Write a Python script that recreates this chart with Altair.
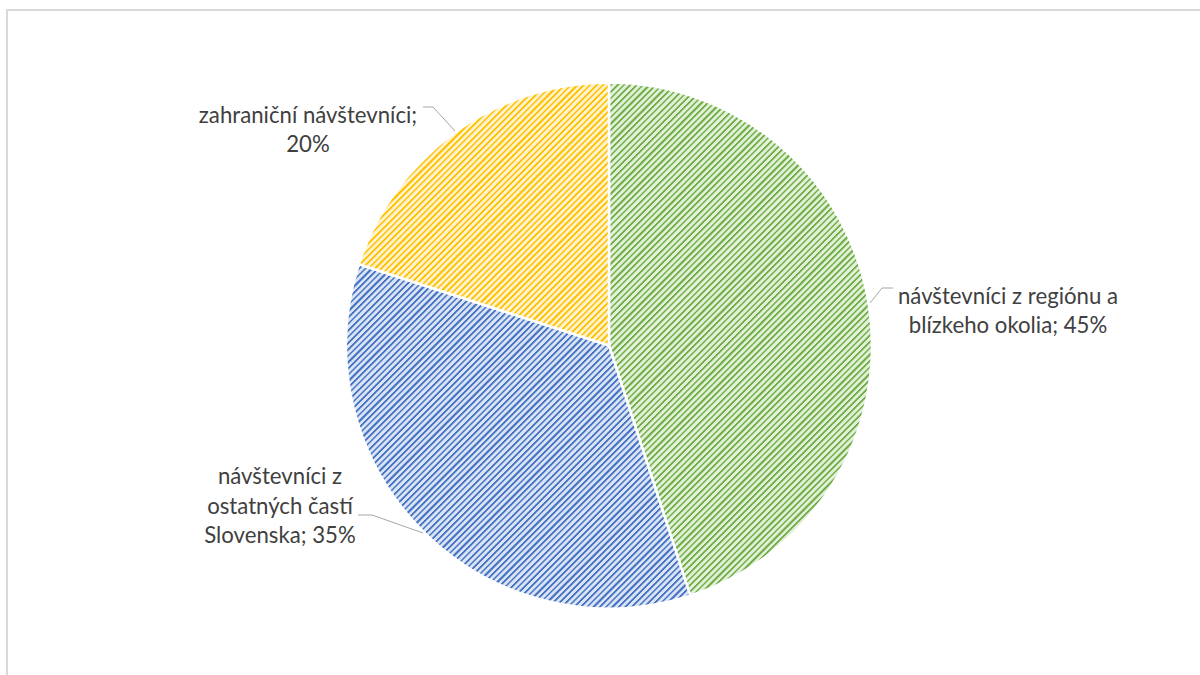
import math
import textwrap
import altair as alt
import pandas as pd

# ---------------- data ----------------
categories = [
    "návštevníci z regiónu a blízkeho okolia",
    "návštevníci z ostatných častí Slovenska",
    "zahraniční návštevníci",
]
values = [45, 35, 20]

# ---------------- layout / style ----------------
CX, CY, R = 609, 345.5, 263
FILLS = [  # (light background, mid, dark hatch)
    ("#e2efd9", "#a9d18e", "#70ad47"),
    ("#dae3f3", "#8eaadb", "#4472c4"),
    ("#fff2cc", "#ffd966", "#ffc000"),
]
PERIOD = 4.5
WRAP = [23, 15, 23]
LABEL_POS = [(1008, 296.5), (280, 477), (308, 115.5)]
LEADERS = [
    [(870, 303), (882, 288), (893, 288)],
    [(358, 515), (372, 515), (423, 533)],
    [(423, 107), (433, 107), (455, 131)],
]
FONT = "Lato"
FONT_SIZE = 22.2
LINE_H = 29.5
TEXT_COLOR = "#404040"

total = sum(values)
starts, ends, acc = [], [], 0
for v in values:
    starts.append(acc)
    acc += v
    ends.append(acc)

labels = [
    "\n".join(textwrap.wrap(f"{c}; {v}%", w))
    for c, v, w in zip(categories, values, WRAP)
]

df = pd.DataFrame({
    "cat": categories,
    "value": values,
    "start": starts,
    "end": ends,
    "label": labels,
})


def slice_bbox(v0, v1):
    a0 = v0 / total * 2 * math.pi
    a1 = v1 / total * 2 * math.pi
    angs = [a0, a1] + [k * math.pi / 2 for k in range(5) if a0 < k * math.pi / 2 < a1]
    pts = [(0.0, 0.0)] + [(R * math.sin(a), -R * math.cos(a)) for a in angs]
    xs = [p[0] for p in pts]
    ys = [p[1] for p in pts]
    return max(xs) - min(xs), max(ys) - min(ys)


def hatch(light, mid, dark, W, H):
    a = H / W
    c = (1 + a) / (1 + a * a)
    L = (W + H) / math.sqrt(2)
    n = int(L / PERIOD) + 1
    pattern = [(0.0, light), (0.5, light), (0.5, mid), (0.6, mid),
               (0.6, dark), (0.86, dark), (0.86, mid), (1.0, mid)]
    stops = []
    for k in range(n):
        for f, col in pattern:
            off = min((k * PERIOD + f * PERIOD) / L, 1.0)
            stops.append(alt.GradientStop(offset=off, color=col))
    return alt.LinearGradient(gradient="linear", stops=stops,
                              x1=0, y1=0, x2=c, y2=c * a)


theta_scale = alt.Scale(domain=[0, total], range=[0, 2 * math.pi])
base = alt.Chart(df)

layers = []

# frame
layers.append(base.transform_filter(alt.datum.cat == categories[0]).mark_rule(
    color="#d9d9d9", strokeWidth=2).encode(
    x=alt.value(6), x2=alt.value(1200), y=alt.value(10)))
layers.append(base.transform_filter(alt.datum.cat == categories[0]).mark_rule(
    color="#d9d9d9", strokeWidth=2).encode(
    x=alt.value(7), y=alt.value(9), y2=alt.value(675)))

# slices
for i, cat in enumerate(categories):
    W, H = slice_bbox(starts[i], ends[i])
    light, mid, dark = FILLS[i]
    layers.append(
        base.transform_filter(alt.datum.cat == cat)
        .mark_arc(radius=R, stroke="white", strokeWidth=2.5,
                  fill=hatch(light, mid, dark, W, H))
        .encode(
            theta=alt.Theta("start:Q", scale=theta_scale),
            theta2="end:Q",
            x=alt.value(CX),
            y=alt.value(CY),
        )
    )

# leader lines
for i, cat in enumerate(categories):
    pts = LEADERS[i]
    for (x0, y0), (x1, y1) in zip(pts[:-1], pts[1:]):
        layers.append(
            base.transform_filter(alt.datum.cat == cat)
            .mark_rule(color="#a6a6a6", strokeWidth=1)
            .encode(x=alt.value(x0), y=alt.value(y0),
                    x2=alt.value(x1), y2=alt.value(y1))
        )

# labels
for i, cat in enumerate(categories):
    lx, ly = LABEL_POS[i]
    layers.append(
        base.transform_filter(alt.datum.cat == cat)
        .mark_text(font=FONT, fontSize=FONT_SIZE, color=TEXT_COLOR,
                   lineBreak="\n", lineHeight=LINE_H,
                   align="center", baseline="middle")
        .encode(text="label:N", x=alt.value(lx), y=alt.value(ly))
    )

chart = alt.layer(*layers).properties(
    width=1200, height=675, padding=0, autosize="none",
    background="white",
).configure_view(stroke=None)

chart.save("out.html", embed_options={"renderer": "svg", "actions": False})
